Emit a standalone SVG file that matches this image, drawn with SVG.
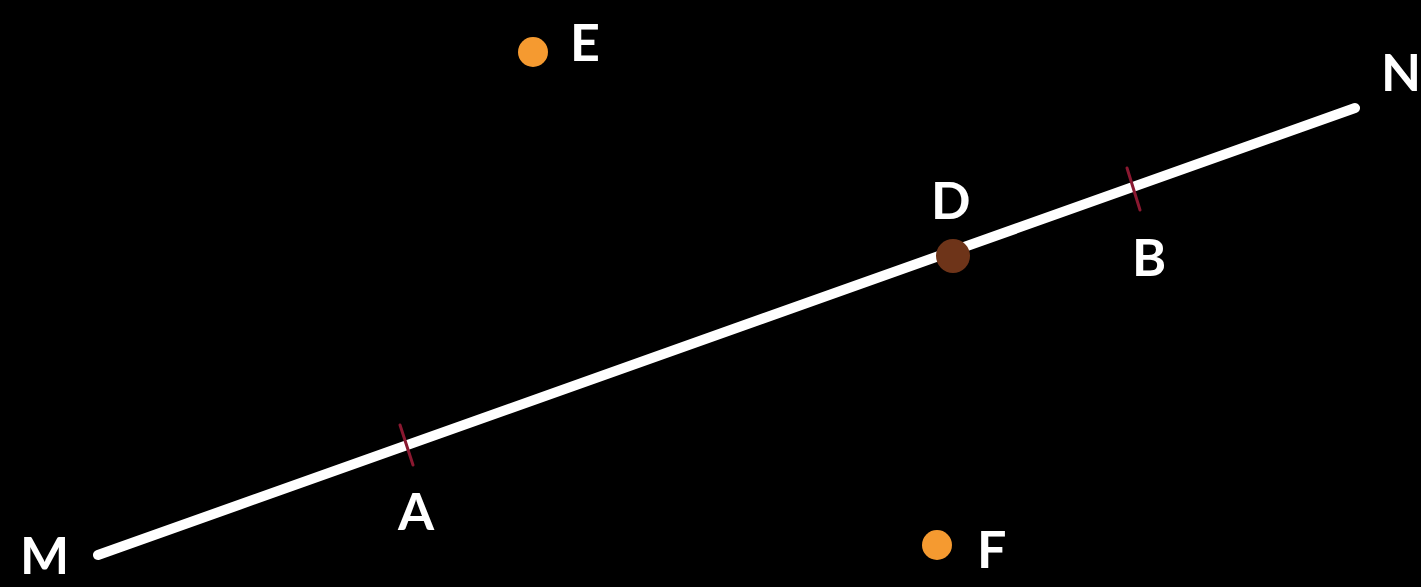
<svg xmlns="http://www.w3.org/2000/svg" width="1421" height="587" viewBox="0 0 1421 587">
<style>
.lbl{font-family:Lato,"Open Sans","Liberation Sans",sans-serif;font-weight:bold;font-size:52px;fill:#ffffff}
.dot{fill:#f59a30}
.tick{stroke:#8a1830;stroke-width:3;stroke-linecap:round}
</style>
<rect width="1421" height="587" fill="#000"/>
<g id="connectors">
<line id="MN" x1="98" y1="555" x2="1355" y2="108" stroke="#fff" stroke-width="10" stroke-linecap="round"/>
</g>
<g id="A"><line class="tick" x1="400" y1="425" x2="413" y2="465"/><text class="lbl" x="398" y="530">A</text></g>
<g id="B"><line class="tick" x1="1127" y1="168" x2="1140" y2="210"/><text class="lbl" x="1132" y="276">B</text></g>
<g id="D"><circle cx="953" cy="256" r="17" fill="#6e3419"/><text class="lbl" x="931" y="219">D</text></g>
<g id="E"><circle class="dot" cx="533" cy="52" r="15"/><text class="lbl" x="570" y="61">E</text></g>
<g id="F"><circle class="dot" cx="937" cy="545" r="15"/><text class="lbl" x="977" y="568">F</text></g>
<g id="M"><text class="lbl" x="20" y="574">M</text></g>
<g id="N"><text class="lbl" x="1381" y="91">N</text></g>
</svg>
